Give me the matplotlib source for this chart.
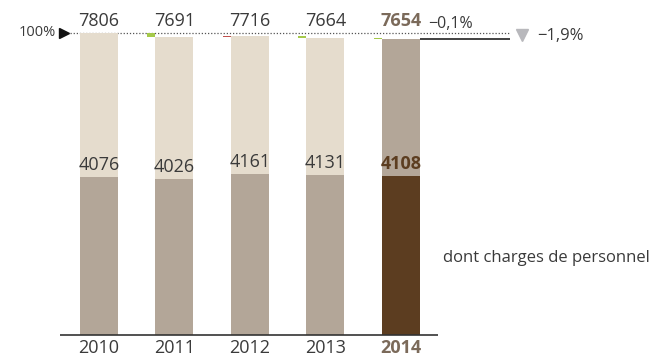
import matplotlib
matplotlib.use("Agg")
import matplotlib.pyplot as plt

plt.rcParams['font.family'] = ['Open Sans', 'DejaVu Sans']

years = ["2010", "2011", "2012", "2013", "2014"]
totals = [7806, 7691, 7716, 7664, 7654]
personnel = [4076, 4026, 4161, 4131, 4108]
change_last = "\u22120,1%"
change_period = "\u22121,9%"
legend_label = "dont charges de personnel"

light = "#e5dccd"
mid = "#b3a698"
dark = "#5c3d20"
txt = "#3a3a3a"
bold_grey = "#7b6a5a"
green = "#a5c94a"
red = "#c0504d"

fig = plt.figure(figsize=(6.53, 3.63), dpi=100)
ax = fig.add_axes([0, 0, 1, 1])
ax.set_xlim(-1.311, 7.338)
ax.set_ylim(-724, 8659)
ax.axis("off")

n = len(years)
x = list(range(n))
w = 0.503
upper_col = [light] * (n - 1) + [mid]
lower_col = [mid] * (n - 1) + [dark]

ax.bar(x, personnel, width=w, color=lower_col, zorder=2)
ax.bar(x, [t - p for t, p in zip(totals, personnel)], bottom=personnel,
       width=w, color=upper_col, zorder=2)

# change indicators
iw = 0.106
for i in range(1, n):
    prev, cur = totals[i - 1], totals[i]
    col = green if cur < prev else red
    ax.bar(i - w / 2 - iw, abs(cur - prev), bottom=min(prev, cur), width=iw,
           align="edge", color=col, zorder=3)

# baseline
ax.hlines(0, -0.517, 4.49, color="#333333", lw=1.2, zorder=4)

# 100% reference line
ax.hlines(totals[0], -0.384, 5.44, color="#555555", lw=0.9, linestyles=(0, (1, 1.5)), zorder=1)
ax.hlines(totals[-1], n - 1 + w / 2, 5.44, color="#222222", lw=1.2, zorder=1)
ax.plot([-0.464], [totals[0]], marker=">", color="#111111", markersize=7, zorder=5)
ax.text(-0.57, totals[0], "100%", ha="right", va="center", fontsize=10.5, color=txt)
ax.plot([5.6], [7754], marker="v", color="#b8b8bc", markersize=8, zorder=5)
ax.text(5.8, 7720, change_period, ha="left", va="center", fontsize=12, color=txt)

# value labels
for i in range(n):
    last = i == n - 1
    ax.text(i, 8110, f"{totals[i]}", ha="center", va="center", fontsize=13,
            color=bold_grey if last else txt, fontweight="bold" if last else "normal")
    ax.annotate(f"{personnel[i]}", (i, personnel[i]), xytext=(0, 12),
                textcoords="offset pixels", ha="center", va="center", fontsize=13,
                color=dark if last else txt, fontweight="bold" if last else "normal",
                zorder=6)
    ax.text(i, -340, years[i], ha="center", va="center", fontsize=13,
            color=bold_grey if last else txt, fontweight="bold" if last else "normal")

ax.text(4.36, 8040, change_last, ha="left", va="center", fontsize=11.5, color=txt)
ax.text(4.56, 1990, legend_label, ha="left", va="center", fontsize=12, color=txt)

fig.savefig("out.png", dpi=100)
